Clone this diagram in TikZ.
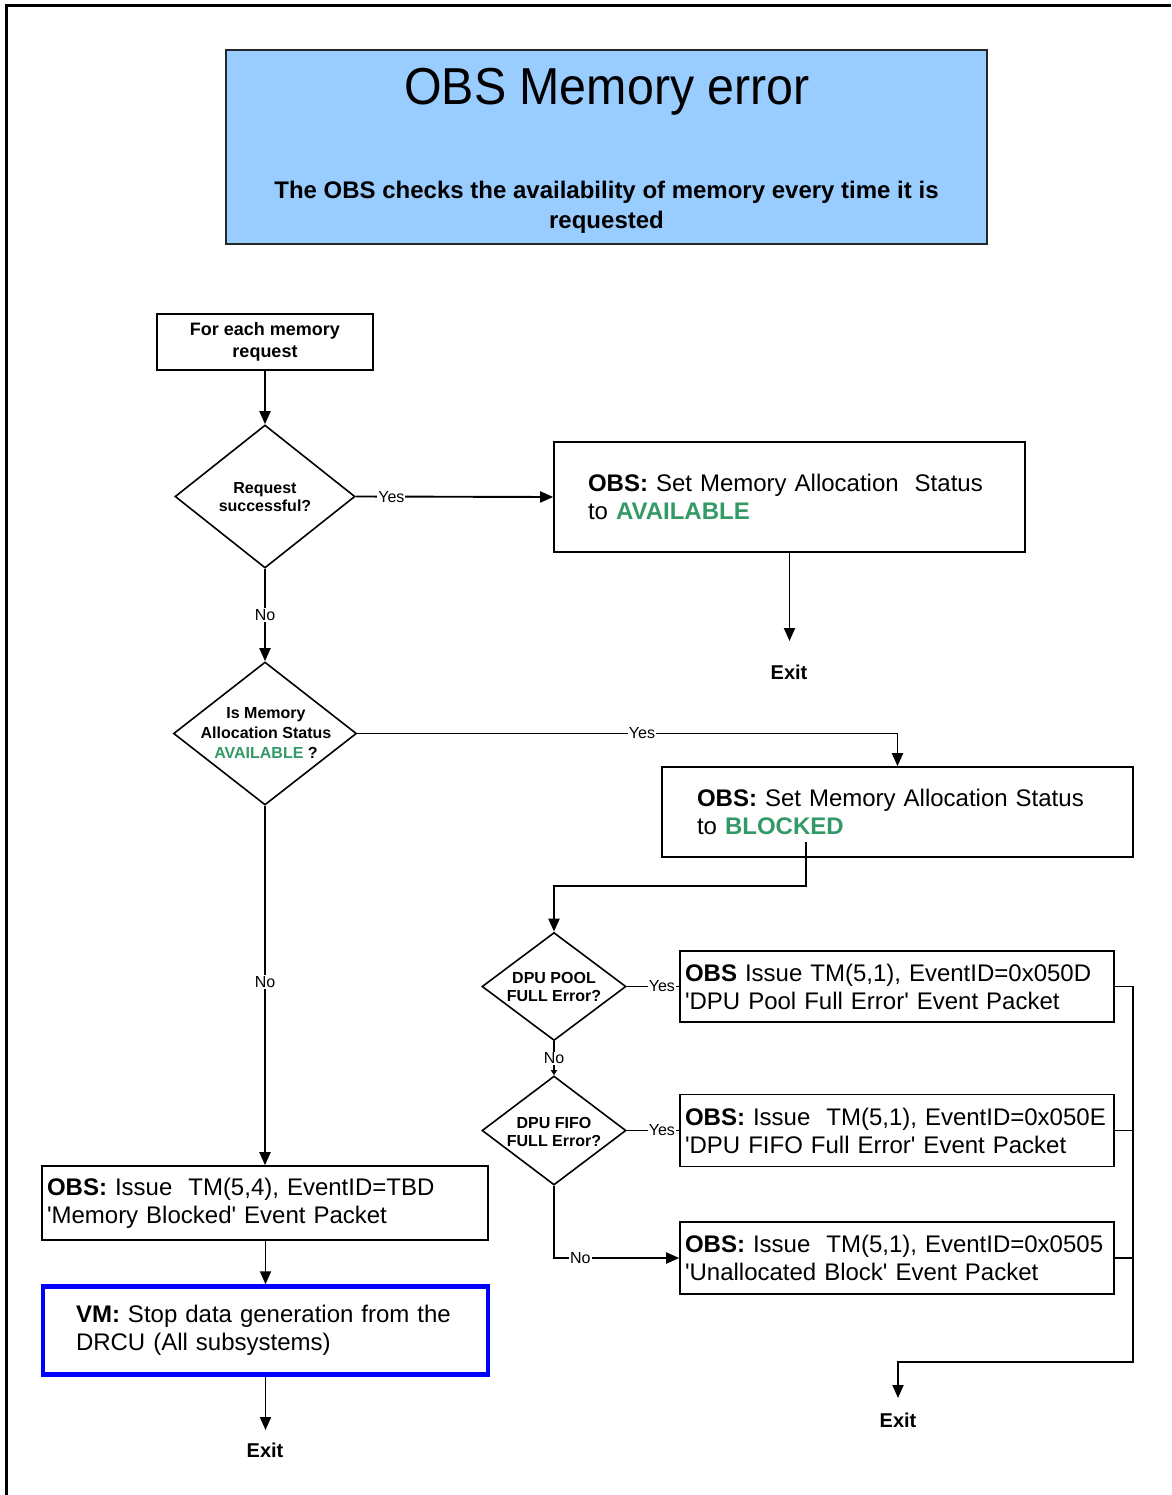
\documentclass[tikz,border=0pt]{standalone}
\usepackage{fontspec}
\setmainfont{Liberation Sans}
\usetikzlibrary{arrows.meta,shapes.geometric}
\definecolor{titlefill}{HTML}{99CCFF}
\definecolor{okgreen}{HTML}{339966}
\definecolor{vmblue}{HTML}{0000FF}
\newcommand{\fs}[2]{\fontsize{#1}{#2}\selectfont}
\newcommand{\sq}{\textquotesingle}
\begin{document}
\begin{tikzpicture}[x=1pt,y=-1pt,
  conn/.style={line width=1.9pt},
  arr/.style={conn,-{Triangle[length=13pt,width=11pt]}},
  smallarr/.style={conn,-{Triangle[length=5pt,width=6pt]}},
  box/.style={draw,line width=1.6pt,rectangle,inner ysep=0pt,align=left,
    font=\fs{24}{28}},
  decision/.style={draw,line width=1.6pt,shape=diamond,inner sep=0pt},
  dtext/.style={align=center,inner sep=0pt,font=\fs{16}{18}\bfseries},
  lbl/.style={fill=white,inner sep=1pt,font=\fs{16}{18}},
  exitlbl/.style={inner sep=0pt,font=\fs{20}{24}\bfseries}
]
\useasboundingbox (0,0) rectangle (1171,1495);

% page frame (top and left edges)
\draw[line width=3pt] (6.5,1495) -- (6.5,5.5) -- (1171,5.5);

% header
\node[draw=black!85,line width=1.6pt,fill=titlefill,minimum width=761pt,
  minimum height=194pt,inner sep=0pt] (header) at (606.5,147) {};
\node[anchor=base,inner sep=0pt,font=\fs{52}{60}] (title) at (607,105)
  {\scalebox{0.93}[1]{OBS Memory error}};
\node[align=center,inner sep=0pt,font=\fs{24}{30}\bfseries] (subtitle) at (606.5,207)
  {The OBS checks the availability of memory every time it is\\requested};

% start
\node[draw,line width=1.6pt,minimum width=216pt,minimum height=56pt,inner sep=0pt,
  align=center,font=\fs{18}{22}\bfseries] (start) at (265,342)
  {For each memory\\request};

% decisions
\node[decision,minimum width=180pt,minimum height=143pt] (dec1) at (265,496.5) {};
\node[dtext] (dec1t) at (265,497) {Request\\successful?};

\node[decision,minimum width=183pt,minimum height=143pt] (dec2) at (265,733.5) {};
\node[dtext,font=\fs{16}{20}\bfseries] (dec2t) at (266,733)
  {Is Memory\\Allocation Status\\{\color{okgreen}AVAILABLE} ?};

\node[decision,minimum width=144pt,minimum height=108pt] (dec3) at (554,986.5) {};
\node[dtext] (dec3t) at (554,987) {DPU POOL\\FULL Error?};

\node[decision,minimum width=144pt,minimum height=109pt] (dec4) at (554,1130.5) {};
\node[dtext] (dec4t) at (554,1132) {DPU FIFO\\FULL Error?};

% actions
\node[box,inner xsep=34pt,text width=403pt,minimum height=110pt] (avail) at (789.5,497)
  {\textbf{OBS:} Set Memory Allocation\ \ Status\\to \textbf{\color{okgreen}AVAILABLE}};

\node[box,inner xsep=35pt,text width=401pt,minimum height=90pt] (blocked) at (897.5,812)
  {\textbf{OBS:} Set Memory Allocation Status\\to \textbf{\color{okgreen}BLOCKED}};

\node[box,inner xsep=5pt,text width=424pt,minimum height=71pt] (pool) at (897,986.5)
  {\textbf{OBS} Issue TM(5,1), EventID=0x050D\\\sq DPU Pool Full Error\sq{} Event Packet};

\node[box,inner xsep=5pt,text width=424pt,minimum height=72pt] (fifo) at (897,1130.5)
  {\textbf{OBS:} Issue\ \ TM(5,1), EventID=0x050E\\\sq DPU FIFO Full Error\sq{} Event Packet};

\node[box,inner xsep=5pt,text width=424pt,minimum height=72pt] (unalloc) at (897,1258)
  {\textbf{OBS:} Issue\ \ TM(5,1), EventID=0x0505\\\sq Unallocated Block\sq{} Event Packet};

\node[box,inner xsep=5pt,text width=436pt,minimum height=74pt] (memblk) at (265,1203)
  {\textbf{OBS:} Issue\ \ TM(5,4), EventID=TBD\\\sq Memory Blocked\sq{} Event Packet};

\node[box,draw=vmblue,line width=4.5pt,inner xsep=33pt,text width=379pt,
  minimum height=88pt] (vm) at (265.5,1330.5)
  {\textbf{VM:} Stop data generation from the\\DRCU (All subsystems)};

% exits
\node[exitlbl] (exit1) at (789,672) {Exit};
\node[exitlbl] (exit2) at (898,1420) {Exit};
\node[exitlbl] (exit3) at (265,1450) {Exit};
\coordinate (exit1in) at (789.5,641);
\coordinate (exit2in) at (898,1398);
\coordinate (exit3in) at (265.5,1430);

% helper points
\coordinate (blkout) at (806,842);
\coordinate (blkbend) at (806,886);
\coordinate (railbot) at (1133,1362);

% connectors
\draw[arr] (start) -- (dec1);
\draw[arr] (dec1.east) -- node[lbl,pos=0.18]{Yes} (avail.west);
\draw[arr] (avail.south) -- (exit1in);
\draw[arr] (dec1.south) -- node[lbl]{No} (dec2.north);
\draw[arr] (dec2.east) -- node[lbl,pos=0.527]{Yes} (dec2.east -| blocked.north)
  -- (blocked.north);
\draw[arr] (blkout) -- (blkbend) -| (dec3.north);
\draw[conn] (dec3.east) -- node[lbl,pos=0.67]{Yes} (pool.west);
\draw[smallarr] (dec3.south) -- node[lbl]{No} (dec4.north);
\draw[conn] (dec4.east) -- node[lbl,pos=0.67]{Yes} (fifo.west);
\draw[arr] (dec4.south) -- (dec4.south |- unalloc.west)
  -- node[lbl,pos=0.21]{No} (unalloc.west);
\draw[arr] (dec2.south) -- node[lbl,pos=0.49]{No} (memblk.north);
\draw[arr] (memblk.south -| vm.north) -- (vm.north);
\draw[arr] (vm.south) -- (exit3in);

% collecting rail to the right-hand exit
\draw[conn] (fifo.east) -- (fifo.east -| railbot);
\draw[conn] (unalloc.east) -- (unalloc.east -| railbot);
\draw[arr] (pool.east) -| (railbot) -| (exit2in);
\end{tikzpicture}
\end{document}
